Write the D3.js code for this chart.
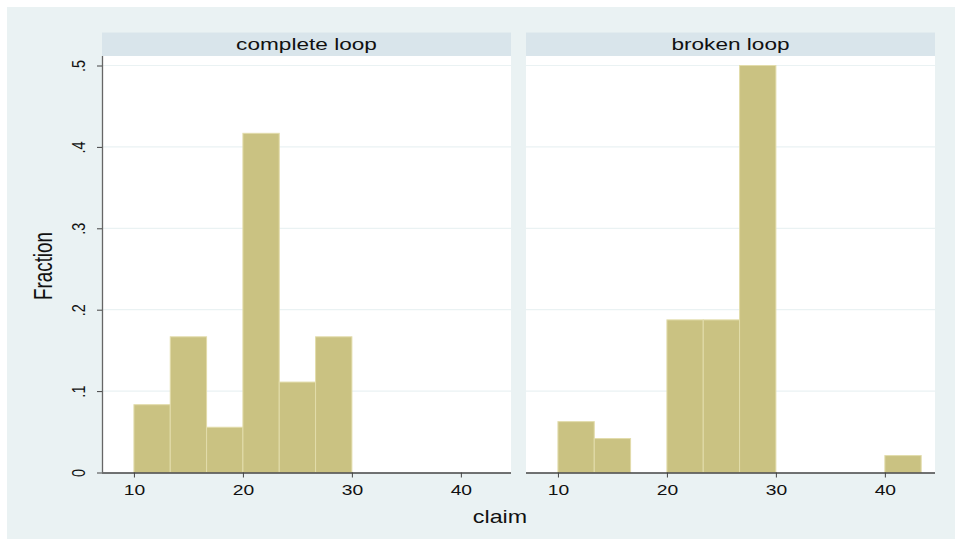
<!DOCTYPE html>
<html>
<head>
<meta charset="utf-8">
<script src="https://cdn.jsdelivr.net/npm/d3@7"></script>
<style>
  html, body { margin: 0; padding: 0; background: #ffffff; }
  svg { display: block; font-family: "Liberation Sans", Arial, Helvetica, sans-serif; }
</style>
</head>
<body>
<svg id="chart" width="955" height="539"></svg>
<script>
// Histogram of claims by loop condition: bin lower edges and fraction per bin
const panels = ["complete loop", "broken loop"];
const binWidth = 3.3333;
const completeBinStart = [10, 13.3333, 16.6667, 20, 23.3333, 26.6667];
const completeFraction = [0.0833, 0.1667, 0.0556, 0.4167, 0.1111, 0.1667];
const brokenBinStart = [10, 13.3333, 20, 23.3333, 26.6667, 40];
const brokenFraction = [0.0625, 0.0417, 0.1875, 0.1875, 0.5, 0.0208];
const xTicks = [10, 20, 30, 40];
const yTicks = [0, 0.1, 0.2, 0.3, 0.4, 0.5];
const yTickLabels = ["0", ".1", ".2", ".3", ".4", ".5"];
const xTitle = "claim";
const yTitle = "Fraction";

const series = [
  { title: panels[0], starts: completeBinStart, values: completeFraction },
  { title: panels[1], starts: brokenBinStart, values: brokenFraction }
];

const svg = d3.select("#chart");
const W = 955, H = 539;
const stretch = 1.33; // wide lettering, horizontal scale factor

// outer graph region
svg.append("rect").attr("x", 7).attr("y", 7).attr("width", W - 7).attr("height", H - 7)
  .attr("fill", "#eaf2f3");

const panelX = [102, 526];
const panelW = 409;
const stripTop = 32.5, stripBottom = 56;
const plotBottom = 472.5;

const y = d3.scaleLinear().domain([0, 0.5]).range([plotBottom, 65.5]);

const fillColor = "#cac282";
const edgeColor = "#e2dcab";

series.forEach((s, i) => {
  const x0 = panelX[i];
  const g = svg.append("g");
  const x = d3.scaleLinear().domain([7.07, 44.6]).range([x0, x0 + panelW]);

  // plot region
  g.append("rect").attr("x", x0).attr("y", stripBottom)
    .attr("width", panelW).attr("height", plotBottom - stripBottom).attr("fill", "#ffffff");

  // title strip
  g.append("rect").attr("x", x0).attr("y", stripTop)
    .attr("width", panelW).attr("height", stripBottom - stripTop).attr("fill", "#d9e5eb");
  g.append("text")
    .attr("transform", `translate(${x0 + panelW / 2},49.5) scale(${stretch},1)`)
    .attr("text-anchor", "middle").attr("font-size", 17).attr("fill", "#111")
    .text(s.title);

  // horizontal grid lines
  g.append("g").selectAll("line").data(yTicks.filter(d => d > 0)).join("line")
    .attr("x1", x0).attr("x2", x0 + panelW)
    .attr("y1", d => y(d)).attr("y2", d => y(d))
    .attr("stroke", "#eaf2f3").attr("stroke-width", 1.2);

  // bars
  g.append("g").selectAll("rect").data(s.values).join("rect")
    .attr("x", (d, j) => x(s.starts[j]))
    .attr("width", (d, j) => x(s.starts[j] + binWidth) - x(s.starts[j]))
    .attr("y", d => y(d))
    .attr("height", d => y(0) - y(d))
    .attr("fill", fillColor)
    .attr("stroke", edgeColor).attr("stroke-width", 1);

  // x axis
  const xAxis = d3.axisBottom(x).tickValues(xTicks).tickSize(5).tickPadding(7.5)
    .tickFormat(d3.format("d"));
  const ax = g.append("g").attr("transform", `translate(0,${plotBottom})`).call(xAxis);
  ax.select(".domain").attr("d", `M${x0},0.5H${x0 + panelW}`).attr("stroke", "#444").attr("stroke-width", 1.3);
  ax.selectAll(".tick line").attr("stroke", "#444");
  ax.selectAll(".tick text").attr("font-size", 14.5).attr("fill", "#111")
    .attr("font-family", "Liberation Sans, Arial, sans-serif")
    .attr("transform", `scale(${stretch},1)`);

  // y axis only on the first panel
  if (i === 0) {
    const yAxis = d3.axisLeft(y).tickValues(yTicks).tickSize(5).tickPadding(0)
      .tickFormat((d, k) => yTickLabels[k]);
    const ay = g.append("g").attr("transform", `translate(${x0},0)`).call(yAxis);
    ay.select(".domain").attr("d", `M0.5,${stripBottom}V${plotBottom}`).attr("stroke", "#666").attr("stroke-width", 1.3);
    ay.selectAll(".tick line").attr("stroke", "#444");
    ay.selectAll(".tick text")
      .attr("font-size", 14.5).attr("fill", "#111")
      .attr("font-family", "Liberation Sans, Arial, sans-serif")
      .attr("text-anchor", "middle")
      .attr("x", 0)
      .attr("transform", `translate(-24,0) scale(${stretch},1) rotate(-90)`)
      .attr("dy", "0.36em");
  }
});

// axis titles
svg.append("text").attr("transform", `translate(500,522.5) scale(${stretch},1)`)
  .attr("text-anchor", "middle").attr("font-size", 17.5).attr("fill", "#111").text(xTitle);
svg.append("text").attr("transform", `translate(52,266) scale(${stretch},1) rotate(-90)`)
  .attr("text-anchor", "middle").attr("font-size", 18.8).attr("fill", "#111").text(yTitle);
</script>
</body>
</html>
